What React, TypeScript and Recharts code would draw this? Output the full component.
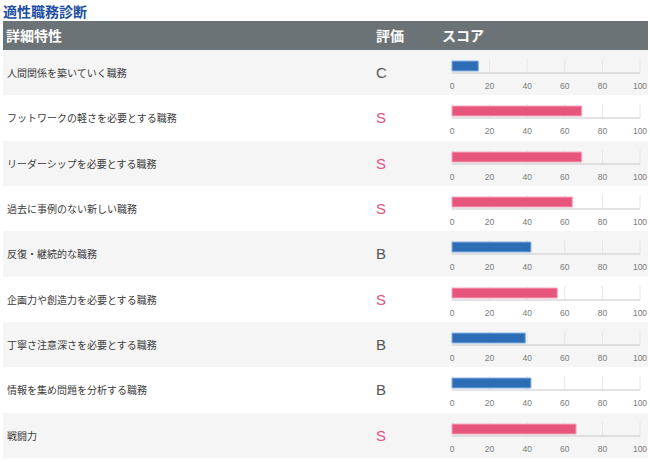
import React from 'react';
import { BarChart, Bar, XAxis, YAxis, CartesianGrid } from 'recharts';

// 適性職務診断 data
const traits = [
  '人間関係を築いていく職務',
  'フットワークの軽さを必要とする職務',
  'リーダーシップを必要とする職務',
  '過去に事例のない新しい職務',
  '反復・継続的な職務',
  '企画力や創造力を必要とする職務',
  '丁寧さ注意深さを必要とする職務',
  '情報を集め問題を分析する職務',
  '戦闘力',
];
const ratings = ['C', 'S', 'S', 'S', 'B', 'S', 'B', 'B', 'S'];
const scores = [14, 69, 69, 64, 42, 56, 39, 42, 66];
const scoreTicks = [0, 20, 40, 60, 80, 100];

const ROW_H = 45.33;
const JP = '"Noto Sans CJK JP", "Noto Sans", sans-serif';
const LATIN = '"Liberation Sans", Arial, sans-serif';

const PINK = '#e8557c';
const BLUE = '#2c6db5';

const ScoreBar = ({ name, score, rating }: { name: string; score: number; rating: string }) => {
  const isS = rating === 'S';
  return (
    <BarChart
      layout="vertical"
      width={210}
      height={45}
      data={[{ name, score }]}
      margin={{ top: 9, right: 10, left: 12, bottom: 0 }}
    >
      <CartesianGrid horizontal={false} stroke="#e6e6e6" />
      <XAxis
        xAxisId="top"
        orientation="top"
        type="number"
        domain={[0, 100]}
        height={0}
        tick={false}
        tickLine={false}
        axisLine={{ stroke: '#e3e3e3' }}
      />
      <XAxis
        type="number"
        domain={[0, 100]}
        ticks={scoreTicks}
        interval={0}
        height={22}
        tickLine={false}
        tickMargin={4}
        axisLine={{ stroke: '#c8c8c8' }}
        tick={{ fontSize: 8.5, fill: '#7a7a7a', fontFamily: LATIN }}
      />
      <YAxis type="category" dataKey="name" hide />
      <Bar
        dataKey="score"
        barSize={10}
        fill={isS ? PINK : BLUE}
        stroke={isS ? '#f4a9bf' : '#86b3e2'}
        strokeWidth={1}
        isAnimationActive={false}
      />
    </BarChart>
  );
};

export default function App() {
  return (
    <div style={{ position: 'absolute', left: 0, top: 0, width: 650, height: 462, background: '#fff' }}>
      <div
        style={{
          position: 'absolute',
          left: 3,
          top: 2,
          fontFamily: JP,
          fontWeight: 700,
          fontSize: 14,
          lineHeight: '18px',
          color: '#1c4ea2',
        }}
      >
        適性職務診断
      </div>
      <div
        style={{
          position: 'absolute',
          left: 3,
          top: 21,
          width: 645,
          height: 29,
          background: '#6b7377',
          color: '#fff',
          fontFamily: JP,
          fontWeight: 700,
          fontSize: 14,
          lineHeight: '29px',
        }}
      >
        <span style={{ position: 'absolute', left: 3 }}>詳細特性</span>
        <span style={{ position: 'absolute', left: 373 }}>評価</span>
        <span style={{ position: 'absolute', left: 439 }}>スコア</span>
      </div>
      {traits.map((t, i) => (
        <div
          key={t}
          style={{
            position: 'absolute',
            left: 3,
            top: 50 + i * ROW_H,
            width: 645,
            height: ROW_H,
            background: i % 2 === 0 ? '#f5f5f5' : '#fff',
          }}
        >
          <span
            style={{
              position: 'absolute',
              left: 4,
              top: 0,
              lineHeight: `${ROW_H}px`,
              fontFamily: JP,
              fontSize: 10,
              color: '#3a3a3a',
            }}
          >
            {t}
          </span>
          <span
            style={{
              position: 'absolute',
              left: 373,
              top: 0,
              lineHeight: `${ROW_H}px`,
              fontFamily: LATIN,
              fontSize: 15,
              color: ratings[i] === 'S' ? '#e2507f' : '#555',
            }}
          >
            {ratings[i]}
          </span>
          <div style={{ position: 'absolute', left: 437, top: 0 }}>
            <ScoreBar name={t} score={scores[i]} rating={ratings[i]} />
          </div>
        </div>
      ))}
    </div>
  );
}
